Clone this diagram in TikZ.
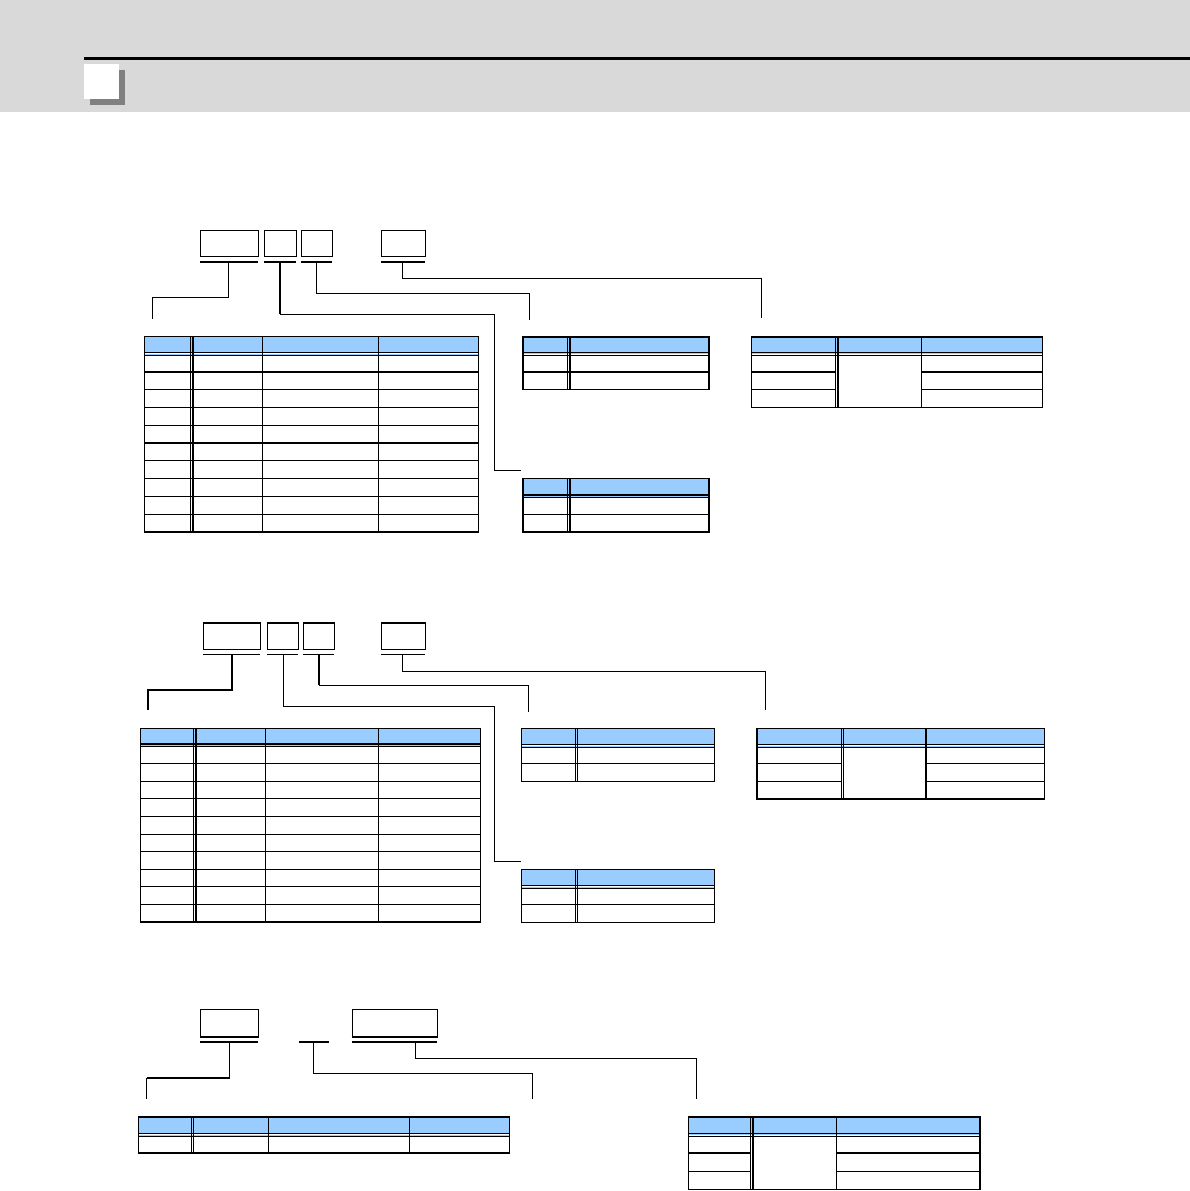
\documentclass[tikz,border=0pt]{standalone}
\usetikzlibrary{calc}
\definecolor{bannergray}{HTML}{D9D9D9}
\definecolor{shadowgray}{HTML}{808080}
\definecolor{hdrblue}{HTML}{99CCFF}
\tikzset{
  fieldbox/.style={draw,line width=1pt,inner sep=0pt,anchor=north west},
  uline/.style={line width=1.3pt},
  ulinethick/.style={line width=2.2pt},
  conn/.style={line width=1pt},
  connthick/.style={line width=2pt},
  gridline/.style={line width=1pt},
  gridthick/.style={line width=1.6pt},
  frameline/.style={line width=1.6pt},
}
% header band of a table: x0, x1, ytop, yhead
\newcommand\tblhead[4]{%
  \fill[hdrblue] (#1,#3) rectangle (#2,#4);
  \draw[line width=1.3pt] (#1,#4) -- (#2,#4);
  \draw[hdrblue,line width=1pt] (#1,#4+1.6) -- (#2,#4+1.6);
  \draw[line width=0.9pt] (#1,#4+2.7) -- (#2,#4+2.7);
}
% double column divider: x, ytop, ybot
\newcommand\dblcol[3]{%
  \draw[line width=0.8pt] (#1,#2) -- (#1,#3);
  \draw[line width=1.7pt] (#1+2.4,#2) -- (#1+2.4,#3);
}
\newcommand\sglcol[3]{\draw[gridline] (#1,#2) -- (#1,#3);}
\newcommand\thkcol[3]{\draw[gridthick] (#1,#2) -- (#1,#3);}
% row line: x0, x1, y
\newcommand\rowline[3]{\draw[gridline] (#1,#3) -- (#2,#3);}
\newcommand\rowthick[3]{\draw[gridthick] (#1,#3) -- (#2,#3);}
\newcommand\tblframe[4]{\draw[frameline] (#1,#3) rectangle (#2,#4);}
\begin{document}
\begin{tikzpicture}[x=1pt,y=-1pt]
\useasboundingbox (0,0) rectangle (1190,1191);
% ---------------- banner ----------------
\fill[bannergray] (0,0) rectangle (1190,111.5);
\draw[line width=3pt] (84,58.5) -- (1190,58.5);
\fill[shadowgray] (90,70) rectangle (125,105);
\fill[white] (84,64) rectangle (119,99);

% ================= SECTION 1 =================
\node[fieldbox,minimum width=57.7pt,minimum height=26pt] (b11) at (200,230) {};
\node[fieldbox,minimum width=32pt,minimum height=26pt] (b12) at (264,230) {};
\node[fieldbox,minimum width=31pt,minimum height=26pt] (b13) at (301,230) {};
\node[fieldbox,minimum width=44pt,minimum height=26pt] (b14) at (381,230) {};
\draw[uline] (200,262) -- (258,262);
\draw[uline] (264,262) -- (296,262);
\draw[uline] (301,262) -- (332,262);
\draw[uline] (381,262) -- (425,262);
\coordinate (u11) at (228,262);
\coordinate (u12) at (280,262);
\coordinate (u13) at (316,262);
\coordinate (u14) at (402,262);
\coordinate (t11) at (152,318.5);
\coordinate (t12) at (521,470.7);
\coordinate (t13) at (529,320);
\coordinate (t14) at (761,318);
\draw[conn] (u11) -- ++(0,35) -| (t11);
\draw[connthick] (u12) -- ++(0,52);
\draw[conn] ($(u12)+(0,52)$) -| ++(214,156.7) -- (t12);
\draw[conn] (u13) -- ++(0,31) -| (t13);
\draw[conn] (u14) -- ++(0,16) -| (t14);

% table 1
\tblhead{144.3}{478.5}{336.3}{352.7}
\foreach \y in {389.3,407.3,425.3,460.7,478.3,496,514} {\rowline{144.3}{478.5}{\y}}
\foreach \y in {371.7,443} {\rowthick{144.3}{478.5}{\y}}
\dblcol{190.3}{336.3}{531.7}
\sglcol{262.3}{336.3}{531.7}
\sglcol{378.3}{336.3}{531.7}
\tblframe{144.3}{478.5}{336.3}{531.7}
% table 2
\tblhead{523.2}{709}{337}{352.3}
\rowthick{523.2}{709}{371.7}
\dblcol{567.5}{337}{389.3}
\tblframe{523.2}{709}{337}{389.3}
% table 3
\tblhead{751.5}{1042.3}{337}{352.3}
\rowthick{751.5}{835.5}{371.7}
\rowthick{921.5}{1042.3}{371.7}
\rowline{751.5}{835.5}{389.3}
\rowline{921.5}{1042.3}{389.3}
\dblcol{835.5}{337}{407.3}
\thkcol{921.5}{337}{407.3}
\tblframe{751.5}{1042.3}{337}{407.3}
% table 4
\tblhead{523.2}{709}{478.3}{495}
\rowline{523.2}{709}{514.3}
\dblcol{567.5}{478.3}{532}
\tblframe{523.2}{709}{478.3}{532}

% ================= SECTION 2 =================
\node[fieldbox,minimum width=57pt,minimum height=26pt] (b21) at (203.3,622.7) {};
\node[fieldbox,minimum width=30.7pt,minimum height=26pt] (b22) at (267,622.7) {};
\node[fieldbox,minimum width=31pt,minimum height=26pt] (b23) at (303.3,622.7) {};
\node[fieldbox,minimum width=43.4pt,minimum height=26pt] (b24) at (381.3,622.7) {};
\foreach \n in {b21,b22,b23,b24} {\draw[line width=2.2pt] (\n.north west) -- (\n.north east);}
\draw[uline] (203.3,654.3) -- (260.3,654.3);
\draw[uline] (267,654.3) -- (297.7,654.3);
\draw[uline] (303.3,654.3) -- (334.3,654.3);
\draw[uline] (381.3,654.3) -- (424.7,654.3);
\coordinate (u21) at (232,654.3);
\coordinate (u22) at (283.3,654.3);
\coordinate (u23) at (319,654.3);
\coordinate (u24) at (402.7,654.3);
\coordinate (t21) at (148.3,710);
\coordinate (t22) at (521.4,861.3);
\coordinate (t23) at (528.7,712);
\coordinate (t24) at (765,710);
\draw[connthick] (u21) -- ++(0,35.7) -| (t21);
\draw[conn] (u22) -- ++(0,52) -| ++(211,155) -- (t22);
\draw[connthick] (u23) -- ++(0,31);
\draw[conn] ($(u23)+(0,31)$) -| (t23);
\draw[conn] (u24) -- ++(0,17) -| (t24);

% table 5
\tblhead{140.3}{480.3}{728.3}{744}
\foreach \y in {763.3,781.3,798.7,816.7,834.3,851.7,869.3,904.3} {\rowline{140.3}{480.3}{\y}}
\rowthick{140.3}{480.3}{886.3}
\dblcol{193.3}{728.3}{922}
\sglcol{265.3}{728.3}{922}
\sglcol{378.3}{728.3}{922}
\tblframe{140.3}{480.3}{728.3}{922}
% table 6
\tblhead{521.4}{714.3}{728.3}{744.5}
\rowline{521.4}{714.3}{763.3}
\dblcol{575}{728.3}{781.3}
\tblframe{521.4}{714.3}{728.3}{781.3}
% table 7
\tblhead{756.8}{1044.3}{728.3}{744.5}
\rowline{756.8}{841}{763.3}
\rowline{926}{1044.3}{763.3}
\rowline{756.8}{841}{781.3}
\rowline{926}{1044.3}{781.3}
\dblcol{841}{728.3}{798.7}
\thkcol{926}{728.3}{798.7}
\tblframe{756.8}{1044.3}{728.3}{798.7}
% table 8
\tblhead{521.4}{714.3}{869.3}{885.7}
\rowline{521.4}{714.3}{904.3}
\dblcol{575}{869.3}{922.3}
\tblframe{521.4}{714.3}{869.3}{922.3}

% ================= SECTION 3 =================
\node[fieldbox,minimum width=57.4pt,minimum height=26.7pt] (b31) at (200.4,1009) {};
\node[fieldbox,minimum width=84.9pt,minimum height=27pt] (b32) at (351.6,1009) {};
\foreach \n in {b31,b32} {\draw[line width=2pt] (\n.south west) -- (\n.south east);}
\draw[ulinethick] (200.4,1042) -- (258,1042);
\draw[ulinethick] (298.8,1042) -- (329,1042);
\draw[ulinethick] (351.6,1042) -- (436.5,1042);
\coordinate (u31) at (229.5,1042);
\coordinate (u32) at (313.3,1042);
\coordinate (u33) at (415.5,1042);
\coordinate (t31) at (146.5,1098.7);
\coordinate (t32) at (532.6,1099.3);
\coordinate (t33) at (696.4,1098.7);
\draw[conn] (u31) -- ++(0,36);
\draw[connthick] ($(u31)+(0,36)$) -- ($(t31)+(0,-20.7)$);
\draw[conn] ($(t31)+(0,-20.7)$) -- (t31);
\draw[conn] (u32) -- ++(0,31) -| (t32);
\draw[conn] (u33) -- ++(0,16.3) -| (t33);

% table 9
\tblhead{138.4}{509.6}{1116.7}{1133.7}
\dblcol{191.2}{1116.7}{1153}
\sglcol{268.9}{1116.7}{1153}
\sglcol{409.8}{1116.7}{1153}
\tblframe{138.4}{509.6}{1116.7}{1153}
% table 10
\tblhead{688.3}{980}{1116.7}{1133.3}
\rowthick{688.3}{750.7}{1152.7}
\rowthick{836.3}{980}{1152.7}
\rowline{688.3}{750.7}{1171.3}
\rowline{836.3}{980}{1171.3}
\dblcol{750.7}{1116.7}{1189.3}
\sglcol{836.3}{1116.7}{1189.3}
\tblframe{688.3}{980}{1116.7}{1189.3}
\end{tikzpicture}
\end{document}
